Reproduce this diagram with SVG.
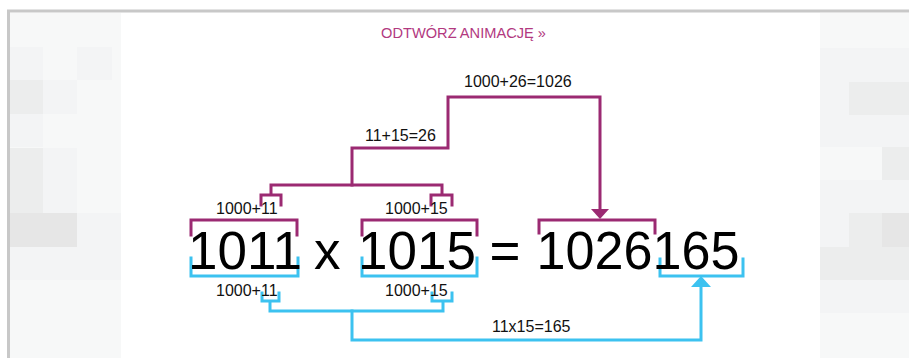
<svg xmlns="http://www.w3.org/2000/svg" width="909" height="358" viewBox="0 0 909 358">
<style>
.m{fill:none;stroke:#9b2a72;stroke-width:3;stroke-linejoin:miter;stroke-linecap:square}
.b{fill:none;stroke:#3cc2f0;stroke-width:3;stroke-linejoin:miter;stroke-linecap:square}
.big{font-family:"Liberation Sans",Arial,sans-serif;font-size:53px;fill:#000}
.lbl{font-family:"Liberation Sans",Arial,sans-serif;font-size:16px;fill:#111}
.t1{fill:#f3f4f5}.t2{fill:#eceded}.t3{fill:#e6e6e6}.t4{fill:#f7f8f8}
</style>
<rect width="909" height="358" fill="#fff"/>
<!-- left tile panel -->
<g id="left-panel">
<rect x="10" y="13" width="111" height="345" class="t4"/>
<rect x="10" y="47" width="33" height="33" class="t1"/>
<rect x="10" y="80" width="33" height="34" class="t2"/>
<rect x="43" y="80" width="34" height="34" class="t1"/>
<rect x="10" y="114" width="33" height="33" class="t1"/>
<rect x="10" y="148" width="33" height="65" class="t2"/>
<rect x="43" y="148" width="34" height="65" class="t1"/>
<rect x="10" y="213" width="67" height="34" class="t3"/>
<rect x="77" y="213" width="44" height="34" class="t1"/>
<rect x="10" y="247" width="111" height="33" class="t1"/>
<rect x="10" y="13" width="33" height="34" class="t4"/>
<rect x="77" y="47" width="35" height="33" class="t1"/>
</g>
<!-- right tile panel -->
<g id="right-panel">
<rect x="820" y="13" width="89" height="345" class="t4"/>
<rect x="820" y="48" width="89" height="34" class="t1"/>
<rect x="849" y="82" width="60" height="33" class="t2"/>
<rect x="820" y="82" width="29" height="33" class="t1"/>
<rect x="820" y="115" width="89" height="32" class="t1"/>
<rect x="882" y="147" width="27" height="33" class="t2"/>
<rect x="820" y="180" width="89" height="33" class="t1"/>
<rect x="849" y="213" width="60" height="34" class="t2"/>
<rect x="882" y="213" width="27" height="34" class="t3"/>
<rect x="820" y="213" width="29" height="34" class="t1"/>
<rect x="820" y="247" width="89" height="33" class="t2"/>
<rect x="820" y="280" width="89" height="33" class="t1"/>
</g>
<!-- frame -->
<path d="M8.5 358V11H909" fill="none" stroke="#c8c8c8" stroke-width="3"/>
<text id="title" x="381" y="38" font-family="'Liberation Sans',Arial,sans-serif" font-size="14.5" fill="#b2397f" textLength="165" lengthAdjust="spacingAndGlyphs">ODTWÓRZ ANIMACJĘ »</text>
<g id="connectors">
<!-- magenta -->
<path class="m" d="M191 235V220H297V235"/>
<path class="m" d="M362 235V220H477V235"/>
<path class="m" d="M539 233V220H655V233"/>
<path class="m" d="M261 205V195H281V205M271 195V185H442V195M431 205V195H452V205"/>
<path class="m" d="M352 185V148H448V97H600V210"/>
<polygon points="591,209 609,209 600,219" fill="#9b2a72"/>
<!-- blue -->
<path class="b" d="M191 258V276H298V258"/>
<path class="b" d="M362 258V276H477V258"/>
<path class="b" d="M660 259V276H743V259"/>
<path class="b" d="M262 293V301H279V293M270 301V311H443V301M432 293V301H452V293"/>
<path class="b" d="M352 311V340H701V285"/>
<polygon points="691,287 711,287 701,276" fill="#3cc2f0"/>
</g>
<g id="equation">
<text class="big" x="188" y="269">1011</text>
<text class="big" x="314" y="269">x</text>
<text class="big" x="358" y="269">1015</text>
<text class="big" x="489.5" y="269">=</text>
<text class="big" x="536.5" y="269" textLength="203" lengthAdjust="spacingAndGlyphs">1026165</text>
</g>
<g id="labels">
<text class="lbl" x="216" y="214">1000+11</text>
<text class="lbl" x="385" y="214">1000+15</text>
<text class="lbl" x="216" y="296">1000+11</text>
<text class="lbl" x="385" y="296">1000+15</text>
<text class="lbl" x="365" y="141">11+15=26</text>
<text class="lbl" x="464" y="87">1000+26=1026</text>
<text class="lbl" x="492" y="332">11x15=165</text>
</g>
</svg>
